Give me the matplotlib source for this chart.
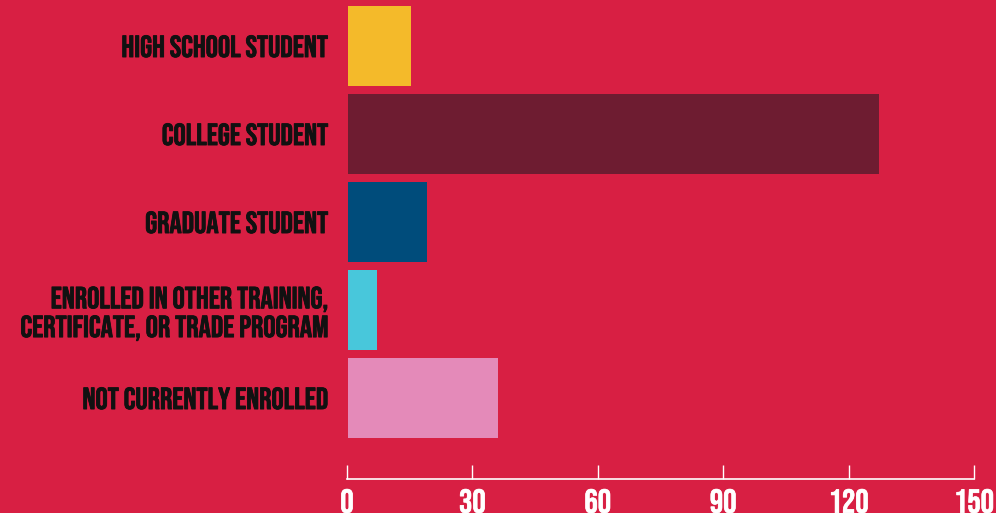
import matplotlib.pyplot as plt
import matplotlib.patheffects as pe

categories = ["HIGH SCHOOL STUDENT", "COLLEGE STUDENT", "GRADUATE STUDENT",
              "ENROLLED IN OTHER TRAINING,\nCERTIFICATE, OR TRADE PROGRAM",
              "NOT CURRENTLY ENROLLED"]
values = [15, 127, 19, 7, 36]
colors = ["#F4BA2A", "#6E1C31", "#004C7B", "#48C7DB", "#E48AB9"]
xticks = [0, 30, 60, 90, 120, 150]

bg = "#D81F43"
font = ["Bebas Neue", "Roboto Condensed", "DejaVu Sans"]

fig = plt.figure(figsize=(9.96, 5.13), dpi=100, facecolor=bg)
ax = fig.add_axes([347 / 996, 34 / 513, 627 / 996, 479 / 513])
ax.set_facecolor(bg)

ypos = list(range(len(categories)))
ax.barh(ypos, values, height=0.909, color=colors, left=0.2)

ax.set_xlim(0, 150)
ax.set_ylim(4.92, -0.523)

for s in ["top", "right", "left"]:
    ax.spines[s].set_visible(False)
ax.spines["bottom"].set_color("white")
ax.spines["bottom"].set_linewidth(1.2)

ax.set_xticks(xticks)
ax.set_xticklabels([str(t) for t in xticks], color="white", fontsize=24,
                   fontweight="bold", family=font)
ax.tick_params(axis="x", direction="in", length=10, width=1, color="white", pad=7)

ax.set_yticks(ypos)
ax.set_yticklabels(categories, fontsize=22, fontweight="bold", family=font,
                   color="#111111", linespacing=1.15)
ax.tick_params(axis="y", length=0, pad=14)

# slightly heavier strokes, like the original lettering
for lbl in ax.get_yticklabels():
    lbl.set_path_effects([pe.withStroke(linewidth=0.6, foreground="#111111")])
for lbl in ax.get_xticklabels():
    lbl.set_path_effects([pe.withStroke(linewidth=0.5, foreground="white")])

fig.savefig("out.png", dpi=100, facecolor=bg)
